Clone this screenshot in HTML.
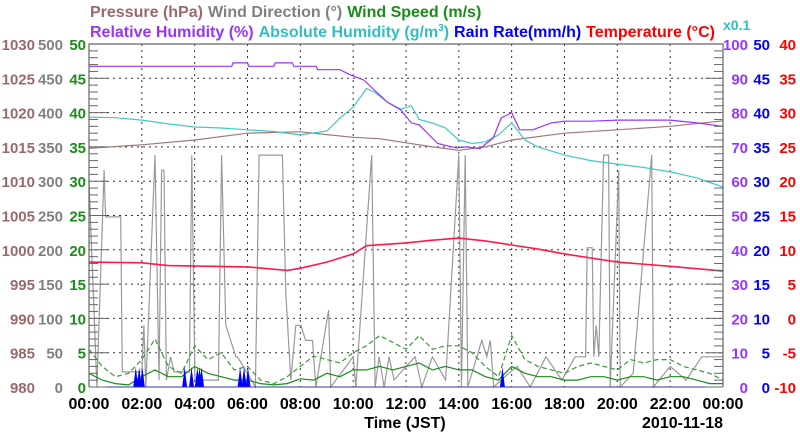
<!DOCTYPE html>
<html><head><meta charset="utf-8"><style>
body{margin:0;background:#fff;width:800px;height:434px;overflow:hidden}
svg{display:block;font-family:"Liberation Sans",Arial,sans-serif;font-weight:bold}
</style></head><body>
<svg id="chart" width="800" height="434" viewBox="0 0 800 434" xmlns="http://www.w3.org/2000/svg">
<g font-size="16">
<text x="90" y="17"><tspan fill="#9a6a6a">Pressure (hPa)</tspan><tspan fill="#808080" dx="5">Wind Direction (°)</tspan><tspan fill="#1a8c1a" dx="5">Wind Speed (m/s)</tspan></text>
<text x="90" y="37"><tspan fill="#9933ff">Relative Humidity (%)</tspan><tspan fill="#33bfbf" dx="5">Absolute Humidity (g/m<tspan dy="-6" font-size="10">3</tspan><tspan dy="6">)</tspan></tspan><tspan fill="#0000ff" dx="5">Rain Rate(mm/h)</tspan><tspan fill="#ff0000" dx="5">Temperature (°C)</tspan></text>
<text x="723" y="30" fill="#33bfbf" font-size="14">x0.1</text>
</g>
<g id="grid"></g>
<g id="series"></g>
<g id="axes"></g>
<text x="405" y="428" text-anchor="middle" font-size="16">Time (JST)</text>
<text x="723" y="428" text-anchor="end" font-size="16">2010-11-18</text>
</svg>
<script>
// ---- data ----
const xTickLabels=["00:00","02:00","04:00","06:00","08:00","10:00","12:00","14:00","16:00","18:00","20:00","22:00","00:00"];
const pressureTicks=["980","985","990","995","1000","1005","1010","1015","1020","1025","1030"];
const windDirTicks=["0","50","100","150","200","250","300","350","400","450","500"];
const windSpdTicks=["0","5","10","15","20","25","30","35","40","45","50"];
const rhTicks=["0","10","20","30","40","50","60","70","80","90","100"];
const rainTicks=["0","5","10","15","20","25","30","35","40","45","50"];
const tempTicks=["-10","-5","0","5","10","15","20","25","30","35","40"];

const rhHours=[0,5.4,5.45,6,6.05,7,7.05,7.7,7.75,8.6,8.65,9.5,9.9,10.4,10.8,11.3,11.8,12.2,12.5,13.2,13.9,14.3,14.8,15.3,15.6,16.0,16.3,16.8,17.5,18,19,20,21,22,23,24];
const rhValues=[93.5,93.5,94.5,94.5,93.5,93.5,94.5,94.5,93.5,93.5,92.5,92.5,91,89.5,86.6,83,80.8,77,76.4,71,69.7,70,69.5,72.6,78.4,80,75,75,77,77.5,77.5,77.8,77.8,77.8,77,76];
const ahHours=[0,1,2,3,4,5,6,7,8,9,9.5,10,10.5,10.8,11.3,11.8,12.2,12.5,13,13.5,14,14.5,15,15.5,16,16.5,17,18,19,20,21,22,23,24];
const ahValues=[78.7,78.5,77.8,76.7,75.8,75.5,75,74.5,73.5,74.6,78.4,81.6,87,86,83,81,82,78,77,75.5,72,71,71.5,73.5,77,72,70,67.6,66,65,64,62.7,61,58.3];
const presHours=[0,2,4,6,8,9,10,11,12,13,14,15,16,18,20,22,24];
const presValues=[1014.8,1015.3,1016,1017,1017.2,1016.8,1016.4,1016.2,1015.6,1015,1014.5,1015,1016,1017,1017.5,1018,1018.8];
const tempHours=[0,2,3,6,7.5,8,9,10,10.5,12,13,14,15,16,17,18,19,20,22,24];
const tempValues=[8.2,8.1,7.7,7.5,7,7.3,8.2,9.4,10.6,11,11.4,11.7,11.3,10.7,10.1,9.4,8.8,8.2,7.6,6.9];
const wdHours=[0,0.3,0.57,0.63,1.2,1.26,2.0,2.08,2.15,2.5,2.65,2.75,2.84,2.93,3.09,3.22,3.8,3.89,4.01,4.9,5.02,5.18,5.56,5.62,6.3,6.44,7.32,7.45,7.64,7.83,8.02,8.2,8.46,8.59,9.07,9.15,10.0,10.1,10.7,10.83,10.98,11.17,11.36,11.55,12.0,12.35,12.6,13.0,13.5,14.0,14.1,14.24,14.34,14.87,15.06,15.19,15.32,15.6,16.2,16.7,17.3,17.9,18.4,18.8,18.86,19.05,19.11,19.2,19.3,19.48,19.67,19.73,20.05,20.11,20.6,21.3,21.37,22.0,22.6,23.2,23.6,24];
const wdValues=[300,0,316,248,248,22,22,90,0,338,10,316,316,10,44,22,22,338,10,10,338,90,44,44,0,338,338,137,10,90,90,68,68,0,112,0,44,0,338,0,44,0,44,10,30,44,0,44,10,338,0,338,0,68,44,68,0,10,30,0,44,10,44,44,203,203,44,90,44,338,338,0,316,0,20,338,0,30,10,44,44,44];
const wsHours=[0,0.5,1,1.5,2,2.5,3,3.5,4,4.5,5,5.5,6,6.5,7,7.5,8,8.5,9,9.5,10,10.5,11,11.5,12,12.5,13,13.5,14,14.5,15,15.5,16,16.5,17,17.5,18,18.5,19,19.5,20,20.5,21,21.5,22,22.5,23,23.5,24];
const wsAvg=[2,1,0.5,0.3,1.5,2.5,1.5,1.5,3,2,1.5,1,1,0.5,0.3,0.5,1.2,1,2,1.5,2.5,2.5,3,2.5,3,3.5,2.5,3,2.5,2.5,1.5,1,3,2,1.5,1.5,1,1,1.5,1.5,1,1.5,1.5,1,1.5,1.5,1,0.5,0.5];
const wsGust=[5.5,3,1.5,2,4,7,3,2,6,4,5,2.5,3,1,0.5,1.5,3,4.5,4,3.5,5,6,7.5,6.5,5.5,7.5,5.5,6,6,5,3,1.5,7.5,4,3,2.5,2,3,3.5,3,2.5,4,3.5,4,4,3,2.5,2,1];
const rainHours=[1.77,1.9,2.02,3.62,3.88,4.1,4.18,4.26,5.72,5.87,6.02,15.65];
const rainValues=[2.9,2.9,2.9,2.9,2.9,2.9,2.9,2.9,2.9,2.9,2.9,2.9];

// ---- layout ----
const L=89,R=723,T=44,B=387;
const NS="http://www.w3.org/2000/svg";
const xs=h=>L+(R-L)*h/24;
const lin=(min,max)=>v=>B-(B-T)*(v-min)/(max-min);
const yPres=lin(980,1030),yWD=lin(0,500),yWS=lin(0,50),yRH=lin(0,100),yRain=lin(0,50),yTemp=lin(-10,40);
function mk(tag,attrs,parent){const e=document.createElementNS(NS,tag);for(const k in attrs)e.setAttribute(k,attrs[k]);parent.appendChild(e);return e;}
const grid=document.getElementById('grid'),series=document.getElementById('series'),axes=document.getElementById('axes');

for(let i=1;i<12;i++){const g=mk('line',{x1:xs(i*2),x2:xs(i*2),y1:T,y2:B,stroke:'#333','stroke-width':1,'stroke-dasharray':'2,4'},grid);

}
for(let i=1;i<10;i++){const y=yWS(i*5);const g=mk('line',{x1:L,x2:R,y1:y,y2:y,stroke:'#333','stroke-width':1,'stroke-dasharray':'2,4'},grid);

}

function path(hours,vals,yf,color,name,extra){
  const d=hours.map((h,i)=>(i?'L':'M')+xs(h).toFixed(1)+','+yf(vals[i]).toFixed(1)).join('');
  const p=mk('path',Object.assign({d:d,fill:'none',stroke:color,'stroke-width':1.2},extra||{}),series);
  
  
}
path(wdHours,wdValues,yWD,'#999','wind-direction-line');
path(wsHours,wsGust,yWS,'#3a9a3a','wind-gust-line',{'stroke-dasharray':'5,3'});
path(wsHours,wsAvg,yWS,'#1a8c1a','wind-speed-line');
path(presHours,presValues,yPres,'#a07878','pressure-line');
path(ahHours,ahValues,yRH,'#40c8c8','absolute-humidity-line');
path(rhHours,rhValues,yRH,'#9933ff','relative-humidity-line');
path(tempHours,tempValues,yTemp,'#ff1a4a','temperature-line',{'stroke-width':1.6});
rainHours.forEach((h,i)=>{const x=xs(h);const p=mk('polygon',{points:`${x-2.5},${B} ${x},${yRain(rainValues[i])} ${x+2.5},${B}`,fill:'#0000ff'},series);

});
const bl=mk('line',{x1:L,x2:R,y1:B,y2:B,stroke:'#3333aa','stroke-width':1},series);



const fr=mk('path',{d:`M${L},${B}L${L},${T}L${R},${T}L${R},${B}`,fill:'none',stroke:'#666','stroke-width':1.2},axes);


for(let i=0;i<=50;i++){const y=yWS(i);const len=i%5===0?18:9;
 const a=mk('line',{x1:L,x2:L+len,y1:y,y2:y,stroke:'#666','stroke-width':1},axes);
 
 
 const b=mk('line',{x1:R-len,x2:R,y1:y,y2:y,stroke:'#666','stroke-width':1},axes);
 
 }
function col(labels,x,anchor,color,name){labels.forEach((t,i)=>{const y=yWS(i*5)+6;const e=mk('text',{x:x,y:y,'text-anchor':anchor,fill:color,'font-size':15},axes);e.textContent=t;
 
 });}
col(pressureTicks,35,'end','#9a6a6a','pressure-tick-label');
col(windDirTicks,63,'end','#808080','wind-direction-tick-label');
col(windSpdTicks,86,'end','#1a8c1a','wind-speed-tick-label');
col(rhTicks,748,'end','#9933ff','humidity-tick-label');
col(rainTicks,770,'end','#0000ff','rain-tick-label');
col(tempTicks,796,'end','#ff0000','temperature-tick-label');
xTickLabels.forEach((t,i)=>{const e=mk('text',{x:xs(i*2),y:409,'text-anchor':'middle',fill:'#000','font-size':16},axes);e.textContent=t;
 
 });
</script>
</body></html>
